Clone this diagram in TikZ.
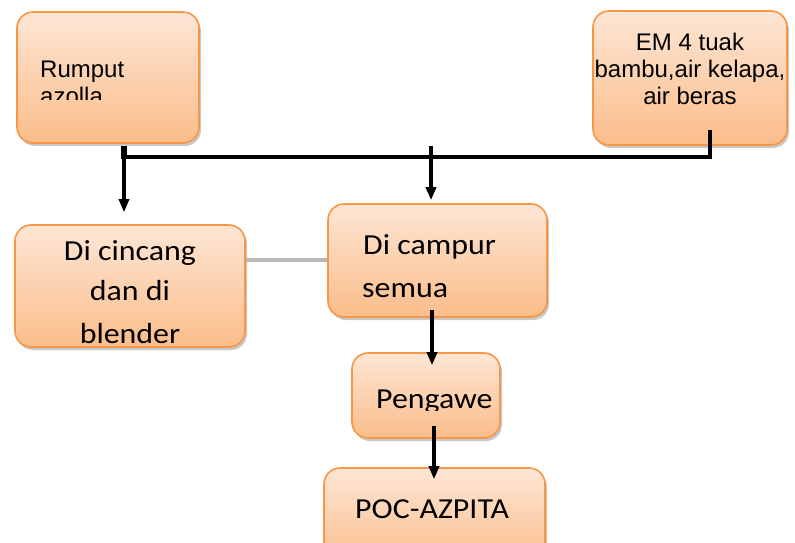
\documentclass[tikz,border=0pt]{standalone}
\usepackage{fontspec}
\newfontfamily\arialf{Liberation Sans}
\newfontfamily\calf[FakeStretch=1.1]{Carlito}
\usetikzlibrary{arrows.meta,shadows,calc}
\definecolor{boxtop}{HTML}{FDE6D5}
\definecolor{boxbot}{HTML}{FBBD8A}
\definecolor{boxline}{HTML}{F79646}
\tikzset{
  box/.style={rectangle, rounded corners=16pt, draw=boxline, line width=1.6pt,
    top color=boxtop, bottom color=boxbot,
    drop shadow={shadow xshift=2pt, shadow yshift=-3pt, opacity=0.3, fill=black!70},
    inner sep=0pt},
  atxt/.style={font=\arialf\fontsize{24}{27}\selectfont, inner sep=0pt},
  ctxt/.style={font=\calf\fontsize{29}{33}\selectfont, inner sep=0pt},
  conn/.style={line width=3.4pt, black},
  arr/.style={line width=3.2pt, black, -{Triangle[width=10pt,length=13pt]}},
  grayline/.style={line width=3.5pt, black!28}
}
\begin{document}
\begin{tikzpicture}[x=1pt,y=-1pt]
\useasboundingbox (0,0) rectangle (795,542);
% boxes
\node[box, minimum width=182pt, minimum height=131pt] (rumput) at (108,77.5) {};
\node[box, minimum width=194pt, minimum height=134pt] (em) at (690,78) {};
\node[box, minimum width=230pt, minimum height=122pt] (cincang) at (130,286) {};
\node[box, minimum width=219pt, minimum height=113pt] (campur) at (437.5,260.5) {};
\node[box, minimum width=148pt, minimum height=85pt] (pengawe) at (426,395.5) {};
\node[box, minimum width=221pt, minimum height=100pt] (poc) at (434.5,518) {};
% texts
\node[atxt, anchor=base west] (t1) at (40,77) {Rumput};
\begin{scope}
\clip (0,0) rectangle (795,99.5);
\node[atxt, anchor=base west] (t2) at (40,104) {azolla};
\end{scope}
\node[atxt, anchor=base] (e1) at (690,50) {EM 4 tuak};
\node[atxt, anchor=base] (e2) at (690,77) {bambu,air kelapa,};
\node[atxt, anchor=base] (e3) at (690,104) {air beras};
\node[ctxt, anchor=base] (c1) at (130,260) {Di cincang};
\node[ctxt, anchor=base] (c2) at (130,300) {dan di};
\node[ctxt, anchor=base] (c3) at (130,343) {blender};
\node[ctxt, anchor=base west] (m1) at (363,254) {Di campur};
\node[ctxt, anchor=base west] (m2) at (362,297) {semua};
\begin{scope}
\clip (0,0) rectangle (795,410.5);
\node[ctxt, anchor=base west] (p1) at (376,408) {Pengawe};
\end{scope}
\node[ctxt, anchor=base west] (q1) at (355,518) {POC-AZPITA};
% connector points
\coordinate (emout) at (710,130);
\coordinate (busR) at (710,157);
\coordinate (busL) at (124,157);
\coordinate (rumout) at (124,146);
\coordinate (midtop) at (431,146);
\coordinate (campout) at (432,310);
\coordinate (pengout) at (434,426);
\coordinate (grayy) at (0,260);
% connectors
\draw[conn] (emout) -- (busR) -- (busL);
\draw[line width=5.5pt] (rumout) -- ++(0,13);
\draw[arr, shorten >=12pt] (rumout) -- (rumout |- cincang.north);
\draw[arr, shorten >=3pt] (midtop) -- (midtop |- campur.north);
\draw[grayline] (cincang.east |- grayy) -- (campur.west |- grayy);
\draw[arr, shorten >=-13pt] (campout) -- (campout |- pengawe.north);
\draw[arr, shorten >=-12pt] (pengout) -- (pengout |- poc.north);
\end{tikzpicture}
\end{document}
